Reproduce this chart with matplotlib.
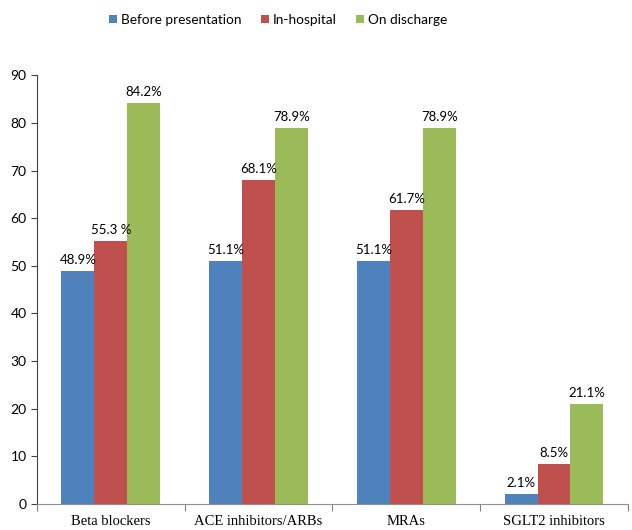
import numpy as np
import matplotlib.pyplot as plt

categories = ["Beta blockers", "ACE inhibitors/ARBs", "MRAs", "SGLT2 inhibitors"]
before = [48.9, 51.1, 51.1, 2.1]
inhosp = [55.3, 68.1, 61.7, 8.5]
discharge = [84.2, 78.9, 78.9, 21.1]
before_lbl = ["48.9%", "51.1%", "51.1%", "2.1%"]
inhosp_lbl = ["55.3 %", "68.1%", "61.7%", "8.5%"]
discharge_lbl = ["84.2%", "78.9%", "78.9%", "21.1%"]
series = ["Before presentation", "In-hospital", "On discharge"]
colors = ["#4F81BD", "#C0504D", "#9BBB59"]

fig = plt.figure(figsize=(6.32, 5.3), dpi=100)
ax = fig.add_axes([0.0585, 0.049, 0.935, 0.809])

x = np.arange(len(categories))
w = 0.223
sans = "Lato"
for k, (vals, lbls) in enumerate([(before, before_lbl), (inhosp, inhosp_lbl), (discharge, discharge_lbl)]):
    bars = ax.bar(x + (k - 1) * w, vals, w, color=colors[k], label=series[k], zorder=2)
    for b, t in zip(bars, lbls):
        ax.text(b.get_x() + b.get_width() / 2, b.get_height() + 1.0, t,
                ha="center", va="bottom", fontsize=9.5, family=sans)

ax.set_xlim(-0.5, 3.5)
ax.set_ylim(0, 90)
ax.set_yticks(range(0, 91, 10))
ax.set_yticklabels([str(v) for v in range(0, 91, 10)], family=sans, fontsize=10)
ax.set_xticks(np.arange(-0.5, 3.6, 1.0))
ax.set_xticklabels([])
ax.set_xticks(x, minor=True)
ax.set_xticklabels(categories, minor=True, family="Liberation Serif", fontsize=10.5)
ax.tick_params(axis="x", which="minor", length=0, pad=8)
ax.tick_params(axis="x", which="major", length=5, direction="out", color="#808080")
ax.tick_params(axis="y", length=4, color="#404040")
for s in ["top", "right"]:
    ax.spines[s].set_visible(False)
ax.spines["bottom"].set_color("#909090")
ax.spines["left"].set_color("#404040")

fig.legend(loc="upper center", bbox_to_anchor=(0.44, 0.997), ncol=3, frameon=False,
           prop={"family": sans, "size": 9.8}, handlelength=0.6, handleheight=0.6,
           handletextpad=0.3, columnspacing=1.4)

plt.savefig("out.png")
